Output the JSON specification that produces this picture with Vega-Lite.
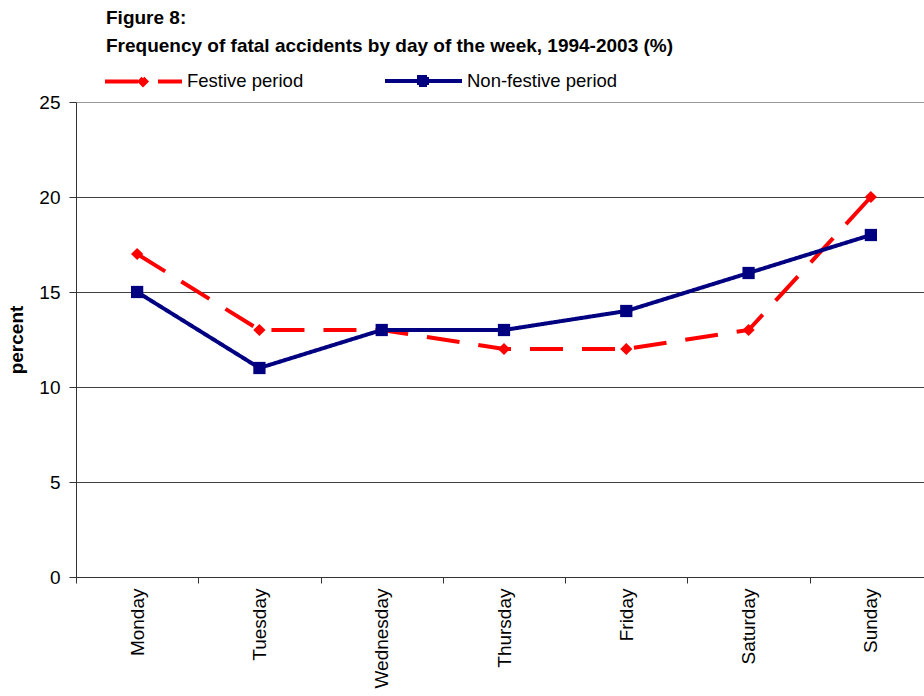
{
  "$schema": "https://vega.github.io/schema/vega-lite/v6.json",
  "autosize": {"type": "none"},
  "padding": {"left": 76, "top": 102, "right": 0, "bottom": 119},
  "width": 848,
  "height": 475,
  "background": "white",
  "title": {
    "text": ["Figure 8:", "Frequency of fatal accidents by day of the week, 1994-2003 (%)"],
    "anchor": "start",
    "frame": "group",
    "dx": 30,
    "dy": -11,
    "lineHeight": 28,
    "font": "Liberation Sans",
    "fontSize": 19,
    "fontWeight": "bold",
    "color": "black"
  },
  "config": {
    "view": {"stroke": null},
    "axis": {
      "labelFont": "Liberation Sans",
      "labelFontSize": 19,
      "labelColor": "black",
      "domainColor": "#333333",
      "tickColor": "#333333",
      "titleFont": "Liberation Sans",
      "titleColor": "black"
    }
  },
  "data": {
    "values": [
      {"day": "Monday", "series": "Festive period", "pct": 17},
      {"day": "Tuesday", "series": "Festive period", "pct": 13},
      {"day": "Wednesday", "series": "Festive period", "pct": 13},
      {"day": "Thursday", "series": "Festive period", "pct": 12},
      {"day": "Friday", "series": "Festive period", "pct": 12},
      {"day": "Saturday", "series": "Festive period", "pct": 13},
      {"day": "Sunday", "series": "Festive period", "pct": 20},
      {"day": "Monday", "series": "Non-festive period", "pct": 15},
      {"day": "Tuesday", "series": "Non-festive period", "pct": 11},
      {"day": "Wednesday", "series": "Non-festive period", "pct": 13},
      {"day": "Thursday", "series": "Non-festive period", "pct": 13},
      {"day": "Friday", "series": "Non-festive period", "pct": 14},
      {"day": "Saturday", "series": "Non-festive period", "pct": 16},
      {"day": "Sunday", "series": "Non-festive period", "pct": 18}
    ]
  },
  "encoding": {
    "x": {
      "field": "day",
      "type": "nominal",
      "sort": ["Monday", "Tuesday", "Wednesday", "Thursday", "Friday", "Saturday", "Sunday"],
      "bandPosition": 0.5,
      "scale": {"type": "band", "range": [0, 856], "paddingInner": 0, "paddingOuter": 0},
      "axis": {
        "title": null,
        "labelAngle": -90,
        "tickBand": "extent",
        "tickSize": 6,
        "labelPadding": 5,
        "grid": false
      }
    },
    "y": {
      "field": "pct",
      "type": "quantitative",
      "scale": {"domain": [0, 25], "nice": false},
      "axis": {
        "values": [0, 5, 10, 15, 20, 25],
        "title": "percent",
        "titleFontSize": 19,
        "titleFontWeight": "bold",
        "titlePadding": 12,
        "tickSize": 7,
        "labelPadding": 9,
        "grid": true,
        "gridColor": {"condition": {"test": "datum.value === 25", "value": "#999999"}, "value": "#404040"},
        "gridOpacity": 1
      }
    },
    "color": {
      "field": "series",
      "type": "nominal",
      "scale": {"domain": ["Festive period", "Non-festive period"], "range": ["#FF0000", "#000080"]},
      "legend": {
        "title": null,
        "orient": "none",
        "legendX": 29,
        "legendY": -31,
        "direction": "horizontal",
        "padding": 0,
        "symbolSize": 256,
        "symbolStrokeWidth": 4,
        "labelOffset": 62,
        "columnPadding": 73,
        "labelFont": "Liberation Sans",
        "labelFontSize": 18.5,
        "labelColor": "black",
        "encode": {
          "symbols": {
            "update": {
              "shape": {"signal": "datum.value === 'Festive period' ? 'M-1.25,0H4.375M5.375,0H8.375M3.5,-0.4L3.9,0L3.5,0.4L3.1,0Z' : 'M-1.25,0H8.375M3,-0.5H4V0.5H3Z'"},
              "fill": {"signal": "datum.value === 'Festive period' ? '#FF0000' : '#000080'"},
              "stroke": {"signal": "datum.value === 'Festive period' ? '#FF0000' : '#000080'"},
              "strokeWidth": {"value": 4},
              "opacity": {"value": 1},
              "fillOpacity": {"value": 1}
            }
          }
        }
      }
    }
  },
  "layer": [
    {
      "mark": {"type": "line", "strokeWidth": 4},
      "encoding": {
        "strokeDash": {
          "field": "series",
          "type": "nominal",
          "scale": {"domain": ["Festive period", "Non-festive period"], "range": [[33, 19], [1, 0]]},
          "legend": null
        }
      }
    },
    {
      "transform": [{"filter": "datum.series === 'Festive period'"}],
      "mark": {"type": "point", "shape": "diamond", "filled": true, "size": 150, "opacity": 1}
    },
    {
      "transform": [{"filter": "datum.series === 'Non-festive period'"}],
      "mark": {"type": "point", "shape": "square", "filled": true, "size": 150, "opacity": 1}
    }
  ]
}
